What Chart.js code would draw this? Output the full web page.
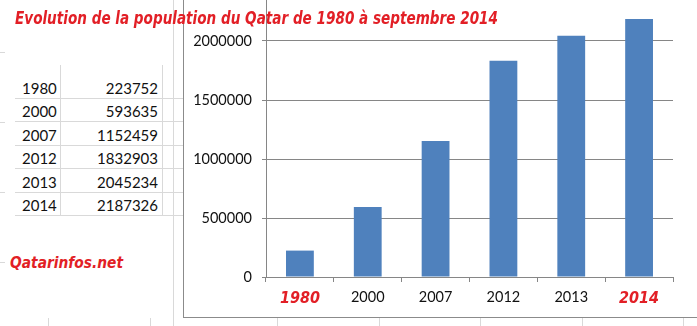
<!DOCTYPE html>
<html>
<head>
<meta charset="utf-8">
<script src="https://cdn.jsdelivr.net/npm/chart.js@4/dist/chart.umd.min.js"></script>
<style>
  html, body { margin: 0; padding: 0; background: #fff; }
  body { width: 697px; height: 326px; position: relative; overflow: hidden; }
  .ln { position: absolute; background: #d9d9d9; }
  .frame { position: absolute; background: #8b8b8b; }
  .cell { position: absolute; font-family: Lato, "Liberation Sans", sans-serif; font-size: 15px; color: #111; line-height: 18px; }
  .red { position: absolute; white-space: nowrap; color: #e21f26; font-family: "DejaVu Sans Condensed", "DejaVu Sans", sans-serif; font-weight: bold; font-style: italic; line-height: 17px; transform-origin: 0 50%; }
  #chartBox { position: absolute; left: 184px; top: -40px; width: 513px; height: 356px; }
</style>
</head>
<body>
<div id="sheet"></div>
<div class="frame" style="left:183px;top:0;width:1px;height:318px"></div>
<div class="frame" style="left:183px;top:317px;width:514px;height:1px"></div>
<div id="chartBox"><canvas id="popChart" width="513" height="356"></canvas></div>
<div class="red" data-w="483" style="left:15px;top:10px;font-size:17px">Evolution de la population du Qatar de 1980 à septembre 2014</div>
<div class="red" data-w="113" style="left:10px;top:254px;font-size:16px">Qatarinfos.net</div>
<script>
const years = ['1980', '2000', '2007', '2012', '2013', '2014'];
const population = [223752, 593635, 1152459, 1832903, 2045234, 2187326];
const yTicks = [0, 500000, 1000000, 1500000, 2000000, 2500000];
const redYears = ['1980', '2014'];

// spreadsheet behind the chart
const sheet = document.getElementById('sheet');
function addLine(x, y, w, h) {
    const d = document.createElement('div');
    d.className = 'ln';
    d.style.left = x + 'px'; d.style.top = y + 'px';
    d.style.width = w + 'px'; d.style.height = h + 'px';
    sheet.appendChild(d);
}
addLine(60, 65, 1, 151);
addLine(162, 65, 1, 151);
addLine(173, 0, 1, 326);
[48, 150, 277, 379, 480, 582, 683].forEach(function(x) { addLine(x, 318, 1, 8); });
years.forEach(function(y, i) {
    const rowY = 79 + i * 23.4;
    addLine(15, Math.round(rowY + 19), 148, 1);
    addLine(163, Math.round(rowY + 19), 20, 1);
    const a = document.createElement('div');
    a.className = 'cell';
    a.style.left = '22px'; a.style.top = rowY + 'px';
    a.textContent = y;
    sheet.appendChild(a);
    const b = document.createElement('div');
    b.className = 'cell';
    b.style.right = (697 - 158) + 'px'; b.style.top = rowY + 'px';
    b.textContent = population[i];
    sheet.appendChild(b);
});
[52, 122, 192, 262].forEach(function(y) { addLine(0, y, 5, 1); });

// squeeze the red texts to their width
document.querySelectorAll('.red').forEach(function(el) {
    const w = el.getBoundingClientRect().width;
    el.style.transform = 'scaleX(' + (parseFloat(el.dataset.w) / w) + ')';
});

const ctx = document.getElementById('popChart').getContext('2d');
const popChart = new Chart(ctx, {
    type: 'bar',
    data: {
        labels: years,
        datasets: [{
            data: population,
            backgroundColor: '#4f81bd',
            borderWidth: 0,
            barPercentage: 0.41,
            categoryPercentage: 1.0
        }]
    },
    options: {
        responsive: false,
        animation: false,
        events: [],
        plugins: {
            legend: { display: false },
            tooltip: { enabled: false }
        },
        layout: {
            padding: { left: 0, right: 24, top: 22, bottom: 0 }
        },
        scales: {
            x: {
                offset: true,
                grid: {
                    offset: true,
                    drawOnChartArea: false,
                    drawTicks: true,
                    tickLength: 5,
                    color: '#868686'
                },
                border: { display: true, color: '#868686' },
                afterFit: function(scale) { scale.height = 39; },
                ticks: {
                    padding: 7,
                    maxRotation: 0,
                    color: function(c) {
                        return redYears.includes(years[c.index]) ? '#e21f26' : '#111';
                    },
                    font: function(c) {
                        if (redYears.includes(years[c.index])) {
                            return { family: '"DejaVu Sans Condensed", "DejaVu Sans", sans-serif', size: 16, weight: 'bold', style: 'italic' };
                        }
                        return { family: 'Lato, "Liberation Sans", sans-serif', size: 14.5 };
                    }
                }
            },
            y: {
                min: 0,
                max: 2500000,
                afterBuildTicks: function(scale) {
                    scale.ticks = yTicks.map(function(v) { return { value: v }; });
                },
                afterFit: function(scale) { scale.width = 82; },
                grid: {
                    color: '#868686',
                    drawTicks: true,
                    tickLength: 4
                },
                border: { display: true, color: '#868686' },
                ticks: {
                    padding: 10,
                    color: '#111',
                    font: { family: 'Lato, "Liberation Sans", sans-serif', size: 14.5 },
                    callback: function(v) { return String(v); }
                }
            }
        }
    }
});
</script>
</body>
</html>
